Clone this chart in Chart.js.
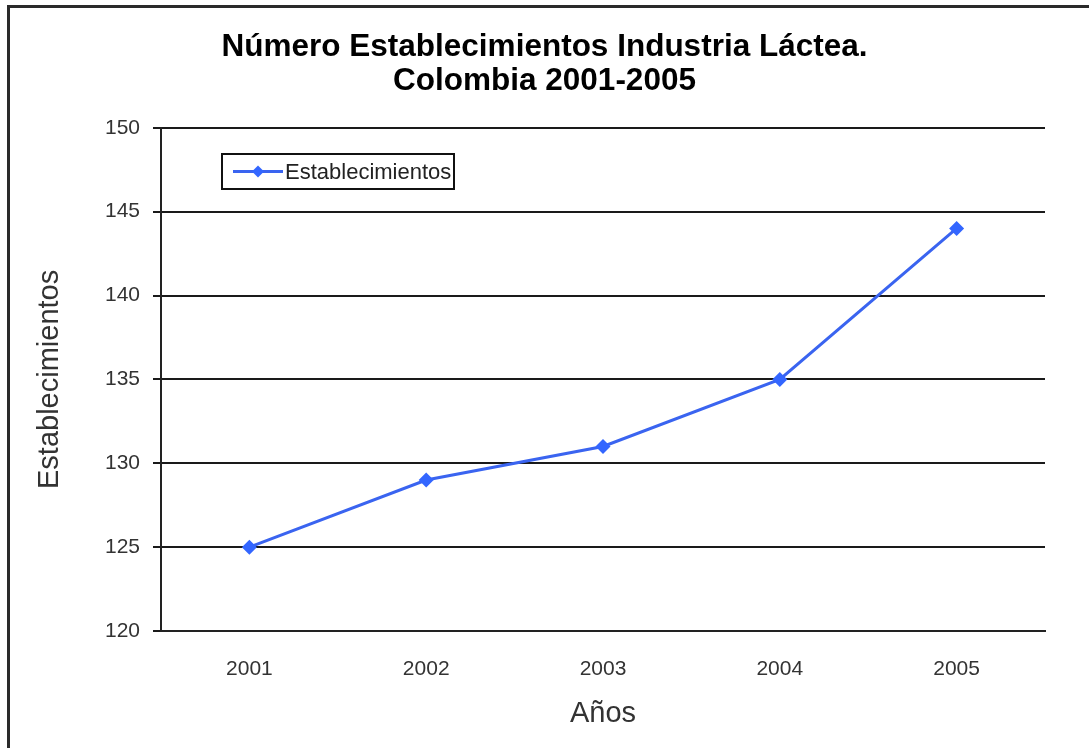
<!DOCTYPE html>
<html>
<head>
<meta charset="utf-8">
<script src="https://cdn.jsdelivr.net/npm/chart.js@4/dist/chart.umd.min.js"></script>
<style>
html,body{margin:0;padding:0;background:#fff;}
#wrap{width:1089px;height:748px;position:relative;}
</style>
</head>
<body>
<div id="wrap"><canvas id="c" width="1089" height="748"></canvas></div>
<script>
const years = ['2001', '2002', '2003', '2004', '2005'];
const establecimientos = [125, 129, 131, 135, 144];
const seriesLabel = 'Establecimientos';
const titleLines = ['Número Establecimientos Industria Láctea.', 'Colombia 2001-2005'];
const xTitle = 'Años';
const yTitle = 'Establecimientos';
const yMin = 120, yMax = 150, yStep = 5;

const FONT = '"Liberation Sans", Arial, sans-serif';

const framePlugin = {
  id: 'frame',
  beforeDraw(chart) {
    const ctx = chart.ctx;
    ctx.save();
    ctx.fillStyle = '#fff';
    ctx.fillRect(0, 0, chart.width, chart.height);
    ctx.strokeStyle = '#2a2a2a';
    ctx.lineWidth = 3;
    ctx.strokeRect(8.5, 6.5, chart.width + 50, chart.height + 50);
    ctx.restore();
  }
};

const insideLegend = {
  id: 'insideLegend',
  afterDatasetsDraw(chart) {
    const ctx = chart.ctx;
    const ds = chart.data.datasets[0];
    const x0 = 222, y0 = 154, w = 232, h = 35;
    ctx.save();
    ctx.fillStyle = '#fff';
    ctx.fillRect(x0, y0, w, h);
    ctx.strokeStyle = '#111';
    ctx.lineWidth = 2;
    ctx.strokeRect(x0, y0, w, h);
    const cy = y0 + h / 2;
    ctx.strokeStyle = ds.borderColor;
    ctx.lineWidth = 3;
    ctx.beginPath();
    ctx.moveTo(x0 + 11, cy);
    ctx.lineTo(x0 + 61, cy);
    ctx.stroke();
    ctx.fillStyle = ds.pointBackgroundColor;
    const r = 6;
    ctx.beginPath();
    ctx.moveTo(x0 + 36, cy - r);
    ctx.lineTo(x0 + 36 + r, cy);
    ctx.lineTo(x0 + 36, cy + r);
    ctx.lineTo(x0 + 36 - r, cy);
    ctx.closePath();
    ctx.fill();
    ctx.fillStyle = '#222';
    ctx.font = '22px ' + FONT;
    ctx.textBaseline = 'middle';
    ctx.textAlign = 'left';
    ctx.fillText(ds.label, x0 + 63, cy + 1);
    ctx.restore();
  }
};

new Chart(document.getElementById('c'), {
  type: 'line',
  data: {
    labels: years,
    datasets: [{
      label: seriesLabel,
      data: establecimientos,
      borderColor: '#3a64f0',
      borderWidth: 3,
      backgroundColor: '#3366ff',
      pointBackgroundColor: '#3366ff',
      pointBorderColor: '#3366ff',
      pointStyle: 'rectRot',
      pointRadius: 7.5,
      pointBorderWidth: 0,
      tension: 0,
      fill: false
    }]
  },
  options: {
    responsive: false,
    animation: false,
    devicePixelRatio: 1,
    layout: { padding: 0 },
    plugins: {
      legend: { display: false },
      tooltip: { enabled: false },
      title: {
        display: true,
        text: titleLines,
        color: '#000',
        font: { family: FONT, size: 31.5, weight: 'bold', lineHeight: 1.06 },
        padding: { top: 31, bottom: 30 }
      }
    },
    scales: {
      x: {
        offset: true,
        grid: { display: false, drawTicks: false },
        border: { display: true, color: '#222', width: 2 },
        ticks: { color: '#333', font: { family: FONT, size: 21 }, padding: 26, maxRotation: 0 },
        title: { display: true, text: xTitle, color: '#333', font: { family: FONT, size: 29 }, padding: { top: 0, bottom: 17 } },
        afterFit(scale) { scale.height = 117; }
      },
      y: {
        min: yMin, max: yMax,
        ticks: { stepSize: yStep, color: '#333', font: { family: FONT, size: 21 }, padding: 13 },
        grid: { color: '#1a1a1a', lineWidth: 2, tickLength: 8, drawTicks: true },
        border: { display: true, color: '#222', width: 2 },
        title: { display: true, text: yTitle, color: '#333', font: { family: FONT, size: 29 }, padding: { top: 33, bottom: 0 } },
        afterFit(scale) { scale.width = 161; }
      },
      yRight: {
        position: 'right',
        display: true,
        min: yMin, max: yMax,
        grid: { display: false, drawTicks: false },
        border: { display: false },
        ticks: { display: false },
        afterFit(scale) { scale.width = 44; }
      }
    }
  },
  plugins: [framePlugin, insideLegend]
});
</script>
</body>
</html>
